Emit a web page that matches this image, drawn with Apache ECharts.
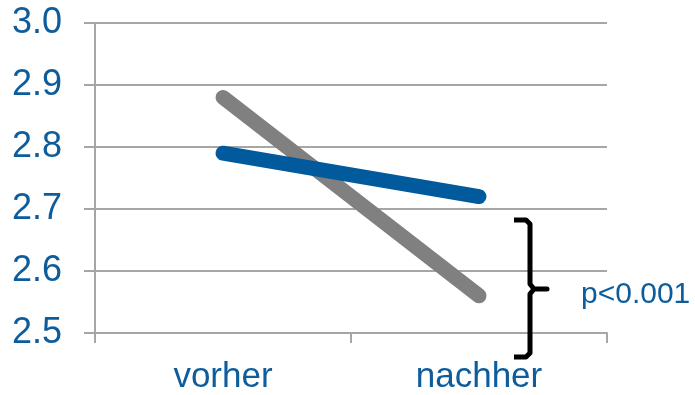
<!DOCTYPE html>
<html>
<head>
<meta charset="utf-8">
<script src="https://cdn.jsdelivr.net/npm/echarts@6/dist/echarts.min.js"></script>
<style>
  html, body { margin: 0; padding: 0; background: #fff; }
  #chart { width: 695px; height: 395px; }
</style>
</head>
<body>
<div id="chart"></div>
<script>
// Categories and mean scores before/after
const categories = ['vorher', 'nachher'];
const blueSeries = [2.79, 2.72];
const graySeries = [2.88, 2.56];
const yTicks = { min: 2.5, max: 3.0, step: 0.1 };
const pLabel = 'p<0.001';

const textBlue = '#0D5C9C';
const gridGray = '#A6A6A6';

const chart = echarts.init(document.getElementById('chart'), null, { renderer: 'canvas' });

const braceStyle = { fill: null, stroke: '#000', lineWidth: 5, lineJoin: 'round', lineCap: 'butt' };

chart.setOption({
  animation: false,
  backgroundColor: '#ffffff',
  grid: { left: 95, right: 88, top: 23, bottom: 60, containLabel: false },
  xAxis: {
    type: 'category',
    data: categories,
    boundaryGap: true,
    axisLine: { show: true, lineStyle: { color: gridGray, width: 2 } },
    axisTick: { show: true, length: 10, alignWithLabel: false, lineStyle: { color: gridGray, width: 2 } },
    axisLabel: { color: textBlue, fontFamily: 'Liberation Sans, Arial, sans-serif', fontSize: 35, margin: 27 },
    splitLine: { show: false }
  },
  yAxis: {
    type: 'value',
    min: yTicks.min,
    max: yTicks.max,
    interval: yTicks.step,
    axisLine: { show: true, lineStyle: { color: gridGray, width: 2 } },
    axisTick: { show: true, length: 11, lineStyle: { color: gridGray, width: 2 } },
    axisLabel: {
      color: textBlue,
      fontFamily: 'Liberation Sans, Arial, sans-serif',
      fontSize: 36,
      margin: 33,
      formatter: v => v.toFixed(1)
    },
    splitLine: { show: true, lineStyle: { color: gridGray, width: 2 } }
  },
  series: [
    {
      type: 'line',
      data: graySeries,
      showSymbol: false,
      symbol: 'none',
      lineStyle: { color: '#808080', width: 15, cap: 'round' },
      z: 2
    },
    {
      type: 'line',
      data: blueSeries,
      showSymbol: false,
      symbol: 'none',
      lineStyle: { color: '#005A9C', width: 15, cap: 'round' },
      z: 3
    }
  ],
  graphic: [
    {
      // curly brace spanning the "nachher" difference
      type: 'polyline',
      shape: {
        points: [[514, 220], [526, 220], [530, 224], [530, 284], [534, 289], [547, 289],
                 [534, 289], [530, 294], [530, 353], [526, 357], [514, 357]]
      },
      style: braceStyle,
      z: 10
    },
    {
      type: 'text',
      left: 581,
      top: 280,
      style: {
        text: pLabel,
        fill: textBlue,
        font: '30px "Liberation Sans", Arial, sans-serif'
      },
      z: 10
    }
  ]
});
</script>
</body>
</html>
